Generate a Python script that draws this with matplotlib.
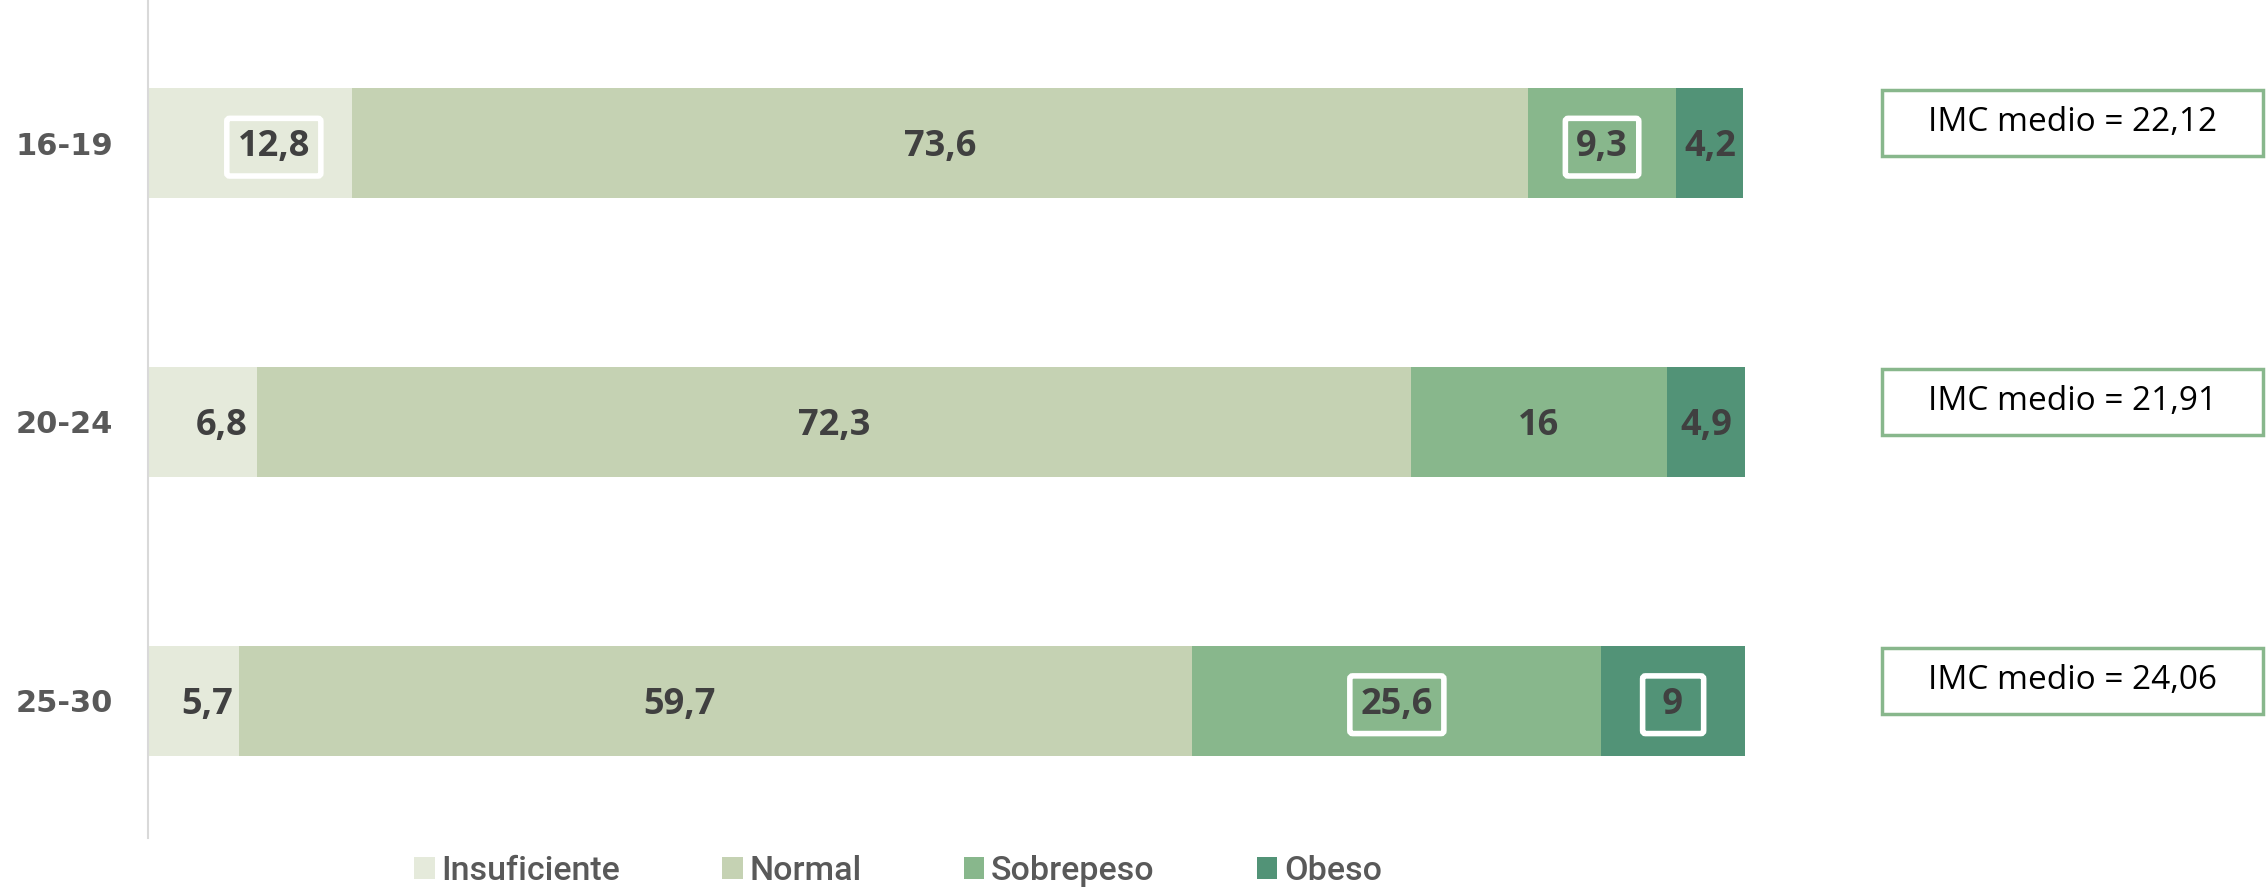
import matplotlib
matplotlib.use("Agg")
import matplotlib.pyplot as plt
from matplotlib.patches import Rectangle, Patch
from matplotlib.transforms import blended_transform_factory

categories = ["16-19", "20-24", "25-30"]
series_names = ["Insuficiente", "Normal", "Sobrepeso", "Obeso"]
insuficiente = [12.8, 6.8, 5.7]
normal = [73.6, 72.3, 59.7]
sobrepeso = [9.3, 16.0, 25.6]
obeso = [4.2, 4.9, 9.0]
imc_medio = ["22,12", "21,91", "24,06"]

colors = ["#E5EADB", "#C5D2B3", "#88B78C", "#529377"]
# labels that carry a white frame in the original
boxed = [[True, False, True, False],
         [False, False, False, False],
         [False, False, True, True]]
# horizontal label nudges (points)
nudges = [[17, 0, 0, 0],
          [14, 0, 0, 0],
          [10, -26, 0, 0]]

fig = plt.figure(figsize=(22.67, 8.91), dpi=100)
ax = fig.add_axes([148/2267, 1-838/891, (1745-148)/2267, 838/891])

series = [insuficiente, normal, sobrepeso, obeso]
ypos = list(range(len(categories)))
left = [0.0]*len(categories)
for si, vals in enumerate(series):
    ax.barh(ypos, vals, left=left, height=0.395, color=colors[si], edgecolor="none")
    for ci, v in enumerate(vals):
        cx = left[ci] + v/2
        txt = f"{v:g}".replace(".", ",")
        kw = {}
        if boxed[ci][si]:
            if len(txt) == 1:
                txt = " " + txt + " "
            kw["bbox"] = dict(boxstyle="round,pad=0.3,rounding_size=0.08", facecolor="none",
                              edgecolor="white", linewidth=4)
        ax.annotate(txt, (cx, ci), xytext=(nudges[ci][si], -3), textcoords="offset points",
                    ha="center", va="center", fontsize=26, fontweight="bold",
                    family="Open Sans", color="#404040", **kw)
    left = [l + v for l, v in zip(left, vals)]

ax.set_xlim(0, 100)
ax.set_ylim(2.493, -0.513)
ax.set_yticks(ypos)
ax.set_yticklabels(categories, fontsize=22, fontweight="bold", family="DejaVu Sans", color="#595959")
ax.tick_params(axis="y", length=0, pad=25)
ax.set_xticks([])
for s in ["top", "right", "bottom"]:
    ax.spines[s].set_visible(False)
ax.spines["left"].set_color("#D9D9D9")
ax.spines["left"].set_linewidth(1.5)

trans = blended_transform_factory(fig.transFigure, ax.transData)
bx0, bx1 = 1882/2267, 2263/2267
for ci, val in enumerate(imc_medio):
    r = Rectangle((bx0, ci - 0.19), bx1 - bx0, 0.237, transform=trans,
                  facecolor="white", edgecolor="#88B78C", linewidth=2.5, clip_on=False)
    fig.add_artist(r)
    fig.text((bx0+bx1)/2, ci - 0.072, f"IMC medio = {val}", transform=trans,
             ha="center", va="center", fontsize=24, family="Open Sans", color="black")

handles = [Patch(facecolor=c, edgecolor="none") for c in colors]
leg = fig.legend(handles, series_names, loc="center", bbox_to_anchor=(898/2267, 20/891),
                 ncol=4, frameon=False, handlelength=0.6, handleheight=0.6, handletextpad=0.2,
                 columnspacing=3.0, prop=dict(family="Roboto", weight="medium", size=24.5))
for t in leg.get_texts():
    t.set_color("#595959")

fig.savefig("out.png", dpi=100)
